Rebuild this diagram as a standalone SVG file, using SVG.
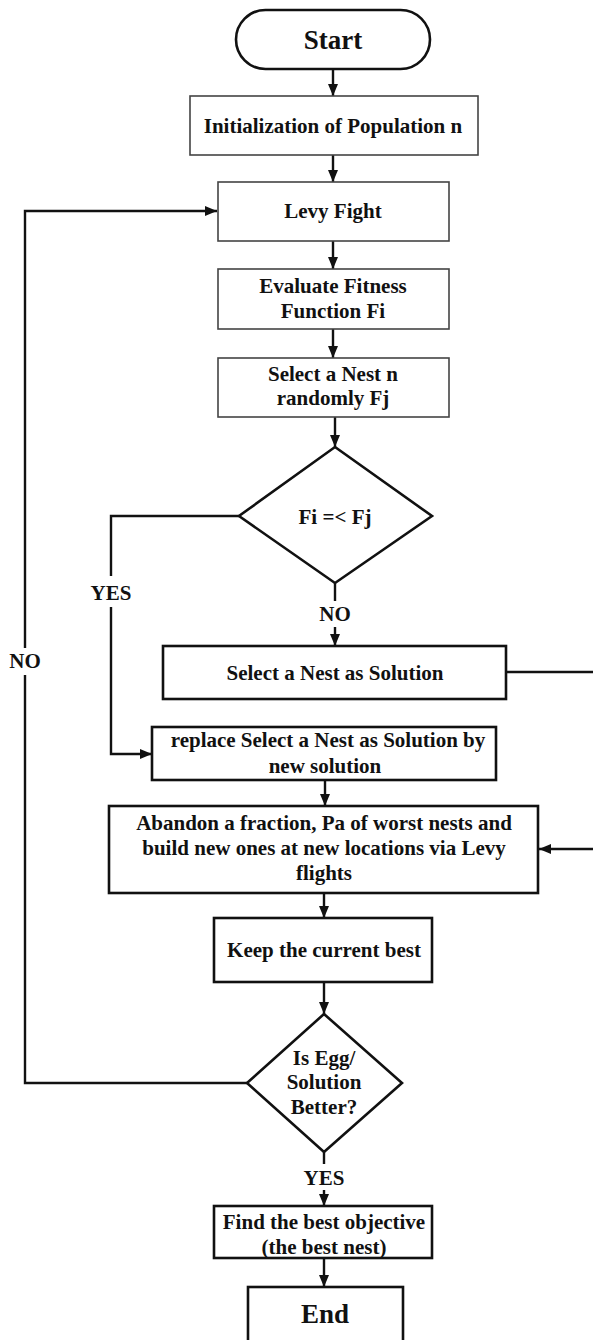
<svg xmlns="http://www.w3.org/2000/svg" width="593" height="1340" viewBox="0 0 593 1340">
  <style>
    .thin { fill: #fff; stroke: #444; stroke-width: 1.6; }
    .bold { fill: #fff; stroke: #111; stroke-width: 2.6; }
    .t { font-family: "Liberation Serif", "Times New Roman", serif; font-weight: bold; font-size: 21px; fill: #111; text-anchor: middle; }
    .big { font-size: 27px; }
    .wire { fill: none; stroke: #111; stroke-width: 2.4; }
  </style>
  <defs>
    <marker id="arrow" markerUnits="userSpaceOnUse" markerWidth="12" markerHeight="10" viewBox="0 0 12 10" refX="12" refY="5" orient="auto">
      <path d="M0,0 L12,5 L0,10 Z" fill="#111"/>
    </marker>
  </defs>
  <rect width="593" height="1340" fill="#fff"/>

  <!-- connectors -->
  <g id="connectors">
    <path class="wire" d="M333,69 V96" marker-end="url(#arrow)"/>
    <path class="wire" d="M333,155 V182" marker-end="url(#arrow)"/>
    <path class="wire" d="M333,241 V269" marker-end="url(#arrow)"/>
    <path class="wire" d="M333,329 V358" marker-end="url(#arrow)"/>
    <path class="wire" d="M335,417 V447" marker-end="url(#arrow)"/>
    <!-- NO branch of first decision -->
    <path class="wire" d="M335,583 V601"/>
    <path class="wire" d="M335,627 V646" marker-end="url(#arrow)"/>
    <!-- YES branch of first decision -->
    <path class="wire" d="M239,516 H111 V576"/>
    <path class="wire" d="M111,607 V754 H152" marker-end="url(#arrow)"/>
    <!-- solution path around the right side -->
    <path class="wire" d="M506,672 H600 V849 H539" marker-end="url(#arrow)"/>
    <path class="wire" d="M325,780 V806" marker-end="url(#arrow)"/>
    <path class="wire" d="M324,893 V918" marker-end="url(#arrow)"/>
    <path class="wire" d="M324,982 V1014" marker-end="url(#arrow)"/>
    <!-- NO loop back to Levy flight -->
    <path class="wire" d="M247,1083 H25 V675"/>
    <path class="wire" d="M25,648 V211 H217" marker-end="url(#arrow)"/>
    <!-- YES to final result -->
    <path class="wire" d="M324,1152 V1164"/>
    <path class="wire" d="M324,1190 V1206" marker-end="url(#arrow)"/>
    <path class="wire" d="M324,1258 V1287" marker-end="url(#arrow)"/>
    <!-- branch labels -->
    <text class="t" x="335" y="621">NO</text>
    <text class="t" x="111" y="600">YES</text>
    <text class="t" x="25" y="668">NO</text>
    <text class="t" x="324" y="1185">YES</text>
  </g>

  <g id="start">
    <rect class="bold" x="236" y="10" width="194" height="59" rx="29.5" ry="29.5" stroke-width="3"/>
    <text class="t big" x="333" y="49">Start</text>
  </g>

  <g id="init">
    <rect class="thin" x="190" y="96" width="288" height="59"/>
    <text class="t" x="333" y="133">Initialization of Population n</text>
  </g>

  <g id="levy">
    <rect class="thin" x="218" y="182" width="231" height="59"/>
    <text class="t" x="333" y="218">Levy Fight</text>
  </g>

  <g id="evaluate">
    <rect class="thin" x="218" y="269" width="231" height="60"/>
    <text class="t" x="333" y="293">Evaluate Fitness</text>
    <text class="t" x="333" y="318">Function Fi</text>
  </g>

  <g id="select-random">
    <rect class="thin" x="218" y="358" width="231" height="59"/>
    <text class="t" x="333" y="381">Select a Nest n</text>
    <text class="t" x="333" y="405">randomly Fj</text>
  </g>

  <g id="compare">
    <polygon class="bold" points="335,447 432,516 335,583 239,516"/>
    <text class="t" x="335" y="524">Fi =&lt; Fj</text>
  </g>

  <g id="select-solution">
    <rect class="bold" x="163" y="646" width="343" height="53"/>
    <text class="t" x="335" y="680">Select a Nest as Solution</text>
  </g>

  <g id="replace">
    <rect class="bold" x="152" y="727" width="344" height="53" stroke-width="2.2"/>
    <text class="t" x="328" y="747">replace Select a Nest as Solution by</text>
    <text class="t" x="325" y="773">new solution</text>
  </g>

  <g id="abandon">
    <rect class="bold" x="109" y="806" width="429" height="87" stroke-width="3"/>
    <text class="t" x="324" y="830">Abandon a fraction, Pa of worst nests and</text>
    <text class="t" x="324" y="855">build new ones at new locations via Levy</text>
    <text class="t" x="324" y="880">flights</text>
  </g>

  <g id="keep-best">
    <rect class="bold" x="214" y="918" width="218" height="64" stroke-width="3"/>
    <text class="t" x="324" y="957">Keep the current best</text>
  </g>

  <g id="check-better">
    <polygon class="bold" points="324,1014 402,1083 324,1152 247,1083"/>
    <text class="t" x="324" y="1065">Is Egg/</text>
    <text class="t" x="324" y="1089">Solution</text>
    <text class="t" x="324" y="1114">Better?</text>
  </g>

  <g id="find-best">
    <rect class="bold" x="214" y="1206" width="218" height="52"/>
    <text class="t" x="324" y="1229">Find the best objective</text>
    <text class="t" x="324" y="1254">(the best nest)</text>
  </g>

  <g id="end">
    <rect class="bold" x="248" y="1287" width="155" height="60" stroke-width="3"/>
    <text class="t big" x="325" y="1323">End</text>
  </g>
</svg>
